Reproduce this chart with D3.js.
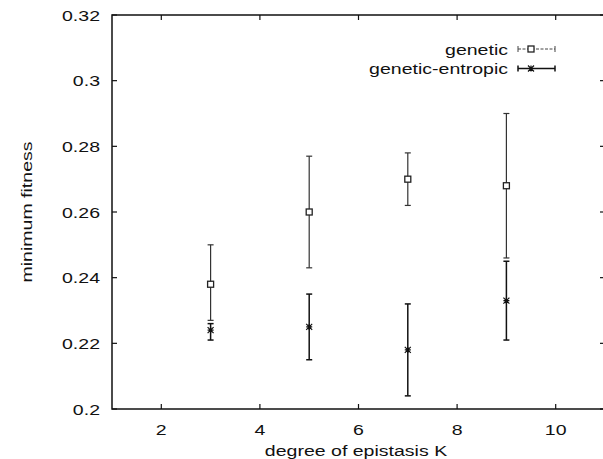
<!DOCTYPE html>
<html>
<head>
<meta charset="utf-8">
<script src="https://cdn.jsdelivr.net/npm/d3@7"></script>
<style>
  html, body { margin: 0; padding: 0; background: #fff; }
  svg { display: block; }
  text { font-family: "Liberation Sans", Arial, Helvetica, sans-serif; fill: #111; }
</style>
</head>
<body>
<svg id="chart" width="603" height="459"></svg>
<script>
// ---- data ----
const K = [3, 5, 7, 9];
const genetic = [0.238, 0.260, 0.270, 0.268];
const geneticLow = [0.227, 0.243, 0.262, 0.246];
const geneticHigh = [0.250, 0.277, 0.278, 0.290];
const entropic = [0.224, 0.225, 0.218, 0.233];
const entropicLow = [0.221, 0.215, 0.204, 0.221];
const entropicHigh = [0.226, 0.235, 0.232, 0.245];
const xTicks = [2, 4, 6, 8, 10];
const yTicks = [0.2, 0.22, 0.24, 0.26, 0.28, 0.3, 0.32];
const yTickLabels = ["0.2", "0.22", "0.24", "0.26", "0.28", "0.3", "0.32"];
const seriesNames = ["genetic", "genetic-entropic"];

const svg = d3.select("#chart");
const pL = 112, pR = 605, pT = 15, pB = 409;
const x = d3.scaleLinear().domain([1, 11]).range([pL, pR]);
const y = d3.scaleLinear().domain([0.2, 0.32]).range([pB, pT]);

const FS = 15.5, SX = 1.26;
function label(g, tx, ty, str, anchor, rot) {
  return g.append("text")
    .attr("transform", `translate(${tx},${ty})` + (rot ? ` rotate(${rot})` : "") + ` scale(${SX},1)`)
    .attr("text-anchor", anchor)
    .attr("font-size", FS)
    .text(str);
}

// frame
const frame = svg.append("g").attr("stroke", "#111").attr("stroke-width", 1.5).attr("fill", "none");
frame.append("rect").attr("x", pL).attr("y", pT).attr("width", pR - pL).attr("height", pB - pT);

// ticks
const tk = svg.append("g").attr("stroke", "#111").attr("stroke-width", 1.2);
xTicks.forEach(v => {
  tk.append("line").attr("x1", x(v)).attr("x2", x(v)).attr("y1", pB).attr("y2", pB - 5);
  tk.append("line").attr("x1", x(v)).attr("x2", x(v)).attr("y1", pT).attr("y2", pT + 5);
});
yTicks.forEach(v => {
  tk.append("line").attr("x1", pL).attr("x2", pL + 5).attr("y1", y(v)).attr("y2", y(v));
  tk.append("line").attr("x1", pR - 5).attr("x2", pR).attr("y1", y(v)).attr("y2", y(v));
});

// tick labels
const tl = svg.append("g");
yTicks.forEach((v, i) => label(tl, 100, y(v) + 5.5, yTickLabels[i], "end"));
xTicks.forEach(v => label(tl, x(v), 434.5, String(v), "middle"));

// axis titles
label(svg, 356, 456, "degree of epistasis K", "middle");
label(svg, 32, (pT + pB) / 2, "minimum fitness", "middle", -90);

// error bars
function errBars(vals, lo, hi, color, w) {
  const g = svg.append("g").attr("stroke", color).attr("stroke-width", w).attr("fill", "none");
  K.forEach((k, i) => {
    const cx = x(k);
    g.append("line").attr("x1", cx).attr("x2", cx).attr("y1", y(lo[i])).attr("y2", y(hi[i]));
    g.append("line").attr("x1", cx - 3).attr("x2", cx + 3).attr("y1", y(lo[i])).attr("y2", y(lo[i]));
    g.append("line").attr("x1", cx - 3).attr("x2", cx + 3).attr("y1", y(hi[i])).attr("y2", y(hi[i]));
  });
  return g;
}
function square(g, cx, cy) {
  g.append("rect").attr("x", cx - 3).attr("y", cy - 3).attr("width", 6).attr("height", 6)
    .attr("fill", "#fff").attr("stroke", "#222").attr("stroke-width", 1.3);
}
function star(g, cx, cy) {
  const r = 3;
  const p = `M${cx - r},${cy}H${cx + r}M${cx},${cy - r}V${cy + r}M${cx - r},${cy - r}L${cx + r},${cy + r}M${cx - r},${cy + r}L${cx + r},${cy - r}`;
  g.append("path").attr("d", p).attr("stroke", "#111").attr("stroke-width", 1.2).attr("fill", "none");
}

const gGen = errBars(genetic, geneticLow, geneticHigh, "#333", 1.2);
const gEnt = errBars(entropic, entropicLow, entropicHigh, "#111", 1.5);
K.forEach((k, i) => square(gGen, x(k), y(genetic[i])));
K.forEach((k, i) => star(gEnt, x(k), y(entropic[i])));

// legend
const lg = svg.append("g");
const legY = [49, 68.5];
const lx1 = 518, lx2 = 555, lmk = 531;
label(lg, 508, legY[0] + 5.5, seriesNames[0], "end");
label(lg, 508, legY[1] + 5.5, seriesNames[1], "end");
[0, 1].forEach(i => {
  const g = lg.append("g").attr("stroke", i === 0 ? "#444" : "#111").attr("stroke-width", i === 0 ? 1 : 1.5);
  g.append("line").attr("x1", lx1).attr("x2", lx2).attr("y1", legY[i]).attr("y2", legY[i])
    .attr("stroke-dasharray", i === 0 ? "3,1.5" : null);
  g.append("line").attr("x1", lx1).attr("x2", lx1).attr("y1", legY[i] - 3).attr("y2", legY[i] + 3);
  g.append("line").attr("x1", lx2).attr("x2", lx2).attr("y1", legY[i] - 3).attr("y2", legY[i] + 3);
});
square(lg, lmk, legY[0]);
star(lg, lmk, legY[1]);
</script>
</body>
</html>
